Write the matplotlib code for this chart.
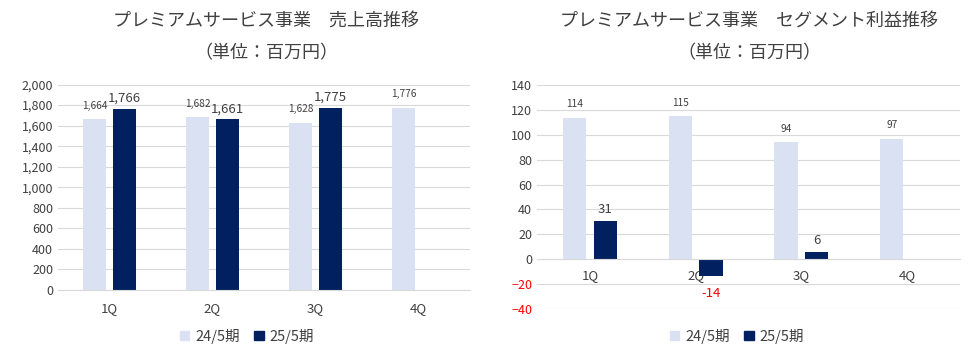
import matplotlib
matplotlib.use("Agg")
import matplotlib.pyplot as plt
from matplotlib.patches import Patch

plt.rcParams['font.family'] = ['Noto Sans CJK JP', 'DejaVu Sans']

quarters = ["1Q", "2Q", "3Q", "4Q"]
series_names = ["24/5期", "25/5期"]
sales_prev = [1664, 1682, 1628, 1776]
sales_curr = [1766, 1661, 1775, None]
profit_prev = [114, 115, 94, 97]
profit_curr = [31, -14, 6, None]

sales_yticks = list(range(0, 2001, 200))
profit_yticks = list(range(-40, 141, 20))

LIGHT = "#D9E1F2"
DARK = "#002060"
GRID = "#D9D9D9"
TXT = "#404040"

fig = plt.figure(figsize=(9.73, 3.51), dpi=100)

ax1 = fig.add_axes([58/973, 1-290/351, (470-58)/973, (290-84)/351])
ax2 = fig.add_axes([537/973, 1-309/351, (960-537)/973, (309-85)/351])

W = 0.22
OFF = 0.145

def draw(ax, prev, curr, yticks, ylim, fmt, label_off):
    x = list(range(len(quarters)))
    for i, v in enumerate(prev):
        ax.bar(i - OFF, v, W, color=LIGHT, zorder=2)
        ax.annotate(fmt(v), (i - OFF, v), xytext=(0, 6), textcoords="offset points",
                    ha="center", va="bottom", fontsize=7.3, color=TXT)
    for i, v in enumerate(curr):
        if v is None:
            continue
        ax.bar(i + OFF, v, W, color=DARK, zorder=2)
        if v >= 0:
            ax.annotate(fmt(v), (i + OFF, v), xytext=(0, 3), textcoords="offset points",
                        ha="center", va="bottom", fontsize=9.5, color=TXT)
        else:
            ax.annotate(fmt(v), (i + OFF, v), xytext=(0, -8), textcoords="offset points",
                        ha="center", va="top", fontsize=9.5, color="#FF0000")
    ax.set_xlim(-0.5, len(quarters) - 0.5)
    ax.set_ylim(*ylim)
    ax.set_yticks(yticks)
    ax.set_xticks(x)
    ax.set_xticklabels(quarters)
    ax.grid(axis="y", color=GRID, linewidth=0.8, zorder=0)
    for s in ["left", "right", "top"]:
        ax.spines[s].set_visible(False)
    ax.spines["bottom"].set_color(GRID)
    ax.spines["bottom"].set_position(("data", 0))
    ax.spines["bottom"].set_zorder(3)
    ax.tick_params(axis="both", length=0, labelsize=9, colors=TXT)
    ax.tick_params(axis="x", labelsize=9.5, pad=label_off)

draw(ax1, sales_prev, sales_curr, sales_yticks, (0, 2005), lambda v: f"{v:,}", 9)
ax1.set_yticklabels([f"{t:,}" for t in sales_yticks])

draw(ax2, profit_prev, profit_curr, profit_yticks, (-40.4, 140.4), lambda v: f"{v}", 7)
for lbl, t in zip(ax2.get_yticklabels(), profit_yticks):
    if t < 0:
        lbl.set_color("#FF0000")

fig.text(266/973, 1-21/351, "プレミアムサービス事業　売上高推移", ha="center", va="center", fontsize=13, color=TXT)
fig.text(266/973, 1-53/351, "（単位：百万円）", ha="center", va="center", fontsize=13, color=TXT)
fig.text(749/973, 1-21/351, "プレミアムサービス事業　セグメント利益推移", ha="center", va="center", fontsize=13, color=TXT)
fig.text(749/973, 1-53/351, "（単位：百万円）", ha="center", va="center", fontsize=13, color=TXT)

handles = [Patch(color=LIGHT), Patch(color=DARK)]
for cx in (247/973, 737/973):
    fig.legend(handles, series_names, loc="center", bbox_to_anchor=(cx, 1-336/351),
               ncol=2, frameon=False, fontsize=10.5, handlelength=0.65, handleheight=0.65,
               columnspacing=1.0, handletextpad=0.4, labelcolor=TXT)

fig.savefig("out.png", dpi=100)
